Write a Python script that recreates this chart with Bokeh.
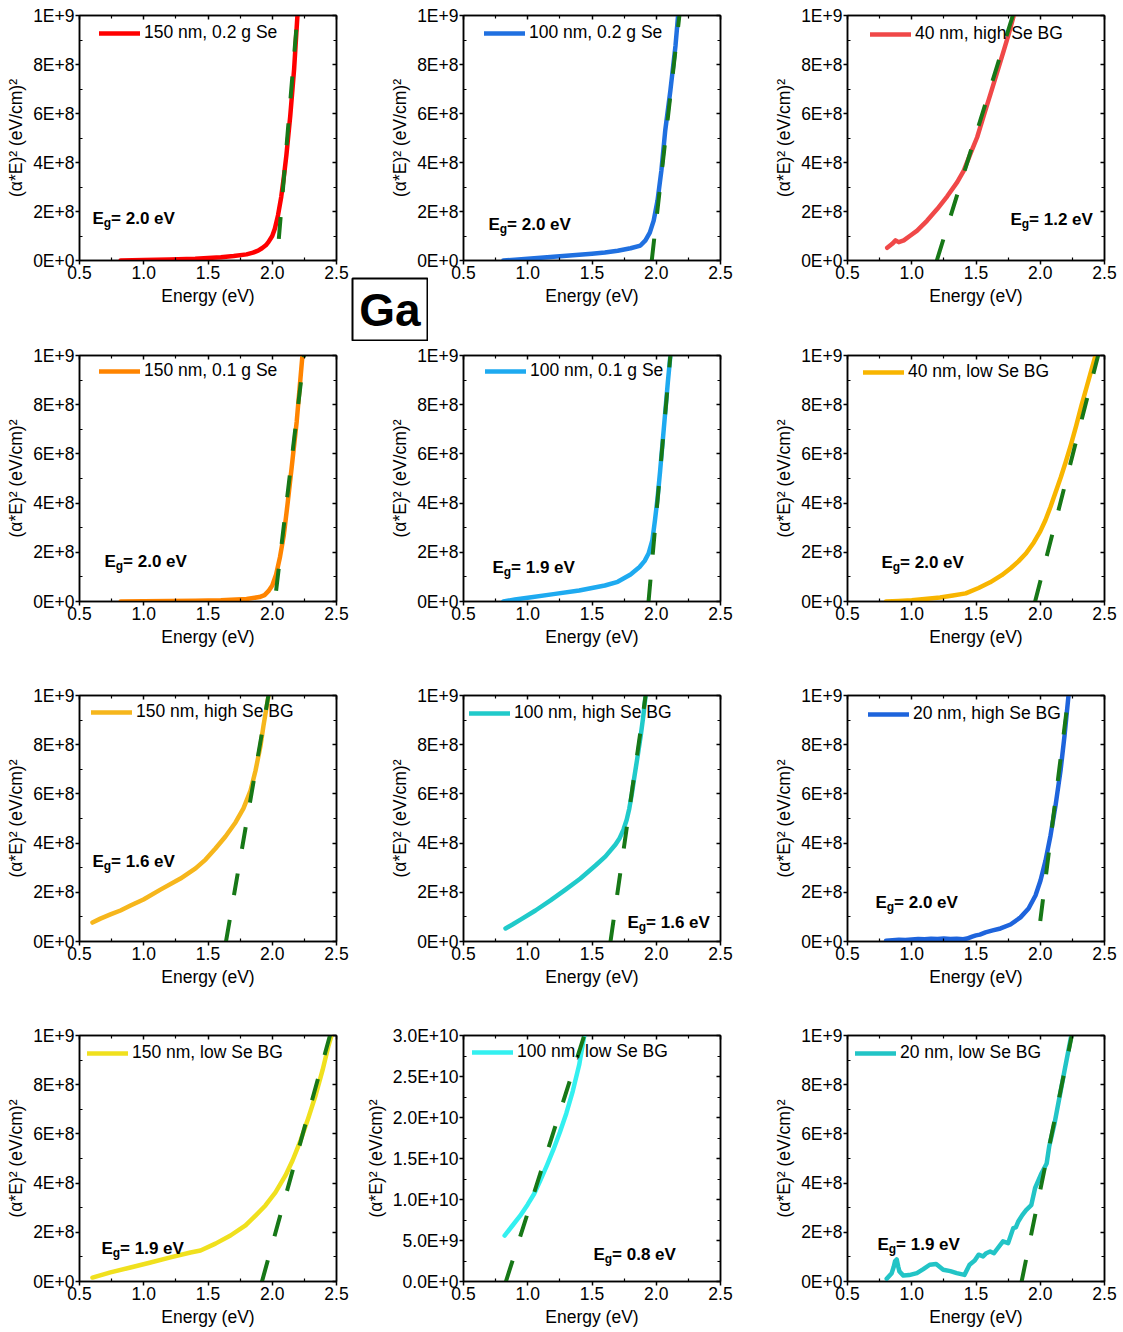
from bokeh.plotting import figure
from bokeh.layouts import row, column
from bokeh.models import (LinearAxis, FixedTicker, Label, Legend, LegendItem,
                          PrintfTickFormatter, Range1d, GridBox)
from bokeh.embed import file_html
from bokeh.resources import INLINE

FONT = "Liberation Sans"
FIT_COLOR = "#177817"

# ---------------- tick definitions ----------------
x_ticks = [0.5, 1.0, 1.5, 2.0, 2.5]
x_tick_labels = ["0.5", "1.0", "1.5", "2.0", "2.5"]
x_minor = [0.75, 1.25, 1.75, 2.25]

y_ticks_1e9 = [0, 200000000, 400000000, 600000000, 800000000, 1000000000]
y_tick_labels_1e9 = ["0E+0", "2E+8", "4E+8", "6E+8", "8E+8", "1E+9"]
y_minor_1e9 = [100000000, 300000000, 500000000, 700000000, 900000000]

y_ticks_3e10 = [0, 5000000000, 10000000000, 15000000000, 20000000000,
                25000000000, 30000000000]
y_tick_labels_3e10 = ["0.0E+0", "5.0E+9", "1.0E+10", "1.5E+10", "2.0E+10",
                      "2.5E+10", "3.0E+10"]
y_minor_3e10 = [2500000000, 7500000000, 12500000000, 17500000000,
                22500000000, 27500000000]

# ---------------- measured Tauc curves: energy (eV), (alpha*E)^2 ((eV/cm)^2) ----------------
e_150_02g = [0.82, 1.0, 1.2, 1.4, 1.5, 1.6, 1.7, 1.8, 1.85, 1.89, 1.92, 1.95,
             1.97, 2.0, 2.02, 2.045, 2.07, 2.09, 2.11, 2.14, 2.17, 2.196]
a_150_02g = [0.0, 0.02e8, 0.04e8, 0.07e8, 0.1e8, 0.13e8, 0.18e8, 0.25e8, 0.32e8,
             0.4e8, 0.5e8, 0.62e8, 0.75e8, 1.0e8, 1.3e8, 1.85e8, 2.6e8, 3.4e8,
             4.3e8, 5.9e8, 7.8e8, 10.0e8]

e_100_02g = [0.81, 0.9, 1.0, 1.2, 1.4, 1.5, 1.6, 1.7, 1.8, 1.877, 1.916, 1.95,
             1.98, 2.01, 2.04, 2.07, 2.11, 2.15, 2.17]
a_100_02g = [0.0, 0.03e8, 0.07e8, 0.15e8, 0.23e8, 0.28e8, 0.33e8, 0.4e8, 0.5e8,
             0.61e8, 0.82e8, 1.14e8, 1.63e8, 2.45e8, 3.67e8, 5.31e8, 6.94e8,
             8.78e8, 10.0e8]

e_40_high = [0.809, 0.848, 0.874, 0.899, 0.938, 0.99, 1.042, 1.12, 1.198, 1.276,
             1.354, 1.405, 1.457, 1.509, 1.561, 1.613, 1.665, 1.716, 1.755, 1.794]
a_40_high = [0.52e8, 0.68e8, 0.82e8, 0.75e8, 0.82e8, 1.02e8, 1.22e8, 1.63e8,
             2.1e8, 2.62e8, 3.2e8, 3.67e8, 4.36e8, 5.03e8, 5.92e8, 6.8e8, 7.69e8,
             8.57e8, 9.25e8, 10.0e8]

e_150_01g = [0.82, 1.0, 1.2, 1.4, 1.6, 1.8, 1.9, 1.94, 1.97, 2.0, 2.03, 2.06,
             2.09, 2.12, 2.15, 2.19, 2.235]
a_150_01g = [0.0, 0.01e8, 0.02e8, 0.03e8, 0.05e8, 0.1e8, 0.18e8, 0.26e8, 0.42e8,
             0.65e8, 1.1e8, 1.8e8, 2.7e8, 4.0e8, 5.4e8, 7.3e8, 10.0e8]

e_100_01g = [0.81, 0.9, 1.0, 1.2, 1.4, 1.5, 1.6, 1.7, 1.8, 1.87, 1.91, 1.94,
             1.97, 1.99, 2.01, 2.03, 2.05, 2.07, 2.09, 2.11]
a_100_01g = [0.0, 0.08e8, 0.15e8, 0.3e8, 0.45e8, 0.55e8, 0.65e8, 0.8e8, 1.1e8,
             1.4e8, 1.65e8, 1.95e8, 2.5e8, 3.3e8, 4.2e8, 5.3e8, 6.5e8, 7.7e8,
             8.9e8, 10.0e8]

e_40_low = [0.80, 0.9, 1.0, 1.1, 1.22, 1.32, 1.42, 1.52, 1.61, 1.7, 1.77, 1.83,
            1.89, 1.95, 2.0, 2.04, 2.08, 2.12, 2.16, 2.2, 2.24, 2.28, 2.32, 2.36,
            2.4, 2.43]
a_40_low = [0.0, 0.02e8, 0.05e8, 0.1e8, 0.16e8, 0.24e8, 0.33e8, 0.55e8, 0.78e8,
            1.07e8, 1.35e8, 1.63e8, 1.96e8, 2.4e8, 2.85e8, 3.3e8, 3.85e8, 4.45e8,
            5.05e8, 5.7e8, 6.4e8, 7.15e8, 7.95e8, 8.7e8, 9.45e8, 10.0e8]

e_150_high = [0.601, 0.663, 0.741, 0.819, 0.897, 0.998, 1.13, 1.286, 1.403,
              1.481, 1.558, 1.636, 1.714, 1.776, 1.831, 1.87, 1.909, 1.932, 1.971]
a_150_high = [0.77e8, 0.93e8, 1.1e8, 1.26e8, 1.46e8, 1.71e8, 2.11e8, 2.56e8,
              2.97e8, 3.33e8, 3.78e8, 4.27e8, 4.84e8, 5.41e8, 6.14e8, 6.95e8,
              7.97e8, 8.78e8, 10.0e8]

e_100_high = [0.827, 0.881, 0.944, 1.06, 1.177, 1.294, 1.41, 1.527, 1.605, 1.683,
              1.715, 1.745, 1.77, 1.79, 1.81, 1.83, 1.854, 1.88, 1.90, 1.917]
a_100_high = [0.53e8, 0.69e8, 0.89e8, 1.26e8, 1.67e8, 2.11e8, 2.56e8, 3.09e8,
              3.46e8, 3.94e8, 4.2e8, 4.55e8, 4.95e8, 5.4e8, 6.0e8, 6.7e8, 7.5e8,
              8.4e8, 9.2e8, 10.0e8]

e_20_high = [0.80, 0.85, 0.9, 0.95, 1.0, 1.05, 1.1, 1.15, 1.2, 1.25, 1.3, 1.35,
             1.4, 1.43, 1.47, 1.5, 1.53, 1.574, 1.63, 1.691, 1.768, 1.846, 1.909,
             1.963, 2.002, 2.041, 2.08, 2.119, 2.158, 2.189, 2.22]
a_20_high = [0.03e8, 0.05e8, 0.07e8, 0.06e8, 0.08e8, 0.1e8, 0.09e8, 0.11e8,
             0.1e8, 0.12e8, 0.1e8, 0.11e8, 0.09e8, 0.12e8, 0.2e8, 0.25e8, 0.28e8,
             0.37e8, 0.45e8, 0.53e8, 0.69e8, 0.98e8, 1.34e8, 1.87e8, 2.48e8,
             3.29e8, 4.31e8, 5.53e8, 6.95e8, 8.37e8, 10.0e8]

e_150_low = [0.601, 0.741, 0.897, 1.053, 1.208, 1.364, 1.442, 1.558, 1.675,
             1.792, 1.87, 1.947, 2.025, 2.103, 2.158, 2.22, 2.282, 2.337, 2.391,
             2.438, 2.461]
a_150_low = [0.16e8, 0.37e8, 0.57e8, 0.77e8, 0.98e8, 1.18e8, 1.26e8, 1.54e8,
             1.87e8, 2.28e8, 2.68e8, 3.09e8, 3.62e8, 4.31e8, 4.92e8, 5.73e8,
             6.67e8, 7.56e8, 8.58e8, 9.59e8, 10.0e8]

e_100_low = [0.82, 0.88, 0.94, 1.0, 1.05, 1.1, 1.15, 1.2, 1.25, 1.3, 1.35, 1.4,
             1.44]
a_100_low = [5.6e9, 6.8e9, 8.0e9, 9.4e9, 10.7e9, 12.4e9, 14.2e9, 16.1e9, 18.2e9,
             20.5e9, 23.2e9, 26.4e9, 30.0e9]

e_20_low = [0.805, 0.844, 0.86, 0.87, 0.883, 0.895, 0.904, 0.935, 0.98, 1.04,
            1.09, 1.14, 1.19, 1.245, 1.3, 1.35, 1.41, 1.45, 1.49, 1.52, 1.555,
            1.58, 1.61, 1.64, 1.66, 1.71, 1.75, 1.79, 1.81, 1.83, 1.86, 1.89,
            1.93, 1.96, 2.01, 2.05, 2.07, 2.11, 2.15, 2.19, 2.24]
a_20_low = [0.11e8, 0.34e8, 0.6e8, 0.82e8, 0.9e8, 0.6e8, 0.41e8, 0.24e8, 0.26e8,
            0.34e8, 0.5e8, 0.68e8, 0.71e8, 0.48e8, 0.42e8, 0.34e8, 0.27e8,
            0.68e8, 0.85e8, 1.09e8, 1.02e8, 1.15e8, 1.22e8, 1.15e8, 1.29e8,
            1.63e8, 1.56e8, 2.17e8, 2.2e8, 2.45e8, 2.7e8, 2.9e8, 3.1e8, 3.8e8,
            4.4e8, 4.8e8, 5.5e8, 6.4e8, 7.5e8, 8.6e8, 9.95e8]

# ---------------- linear Tauc fits: band gap (eV), slope, first fitted energy ----------------
fit_150_02g = dict(eg=2.037, slope=62.9e8, start=2.051)
fit_100_02g = dict(eg=1.965, slope=46.5e8, start=1.965)
fit_40_high = dict(eg=1.195, slope=16.9e8, start=1.195)
fit_150_01g = dict(eg=2.02, slope=44.0e8, start=2.03)
fit_100_01g = dict(eg=1.94, slope=58.8e8, start=1.94)
fit_40_low = dict(eg=1.96, slope=20.4e8, start=1.96)
fit_150_high = dict(eg=1.64, slope=30.3e8, start=1.64)
fit_100_high = dict(eg=1.644, slope=36.6e8, start=1.644)
fit_20_high = dict(eg=1.98, slope=41.7e8, start=2.0)
fit_150_low = dict(eg=1.92, slope=18.9e8, start=1.92)
fit_100_low = dict(eg=0.83, slope=49.2e9, start=0.83)
fit_20_low = dict(eg=1.855, slope=25.6e8, start=1.855)

# ---------------- panels (row by row) ----------------
panels = [
    [dict(name="150 nm, 0.2 g Se", e=e_150_02g, a=a_150_02g, fit=fit_150_02g, color="#FF0000"),
     dict(name="100 nm, 0.2 g Se", e=e_100_02g, a=a_100_02g, fit=fit_100_02g, color="#2070E0"),
     dict(name="40 nm, high Se BG", e=e_40_high, a=a_40_high, fit=fit_40_high, color="#F04848")],
    [dict(name="150 nm, 0.1 g Se", e=e_150_01g, a=a_150_01g, fit=fit_150_01g, color="#FF8400"),
     dict(name="100 nm, 0.1 g Se", e=e_100_01g, a=a_100_01g, fit=fit_100_01g, color="#1EAAF0"),
     dict(name="40 nm, low Se BG", e=e_40_low, a=a_40_low, fit=fit_40_low, color="#F8B500")],
    [dict(name="150 nm, high Se BG", e=e_150_high, a=a_150_high, fit=fit_150_high, color="#F6B61C"),
     dict(name="100 nm, high Se BG", e=e_100_high, a=a_100_high, fit=fit_100_high, color="#20CACA"),
     dict(name="20 nm, high Se BG", e=e_20_high, a=a_20_high, fit=fit_20_high, color="#1E64DC")],
    [dict(name="150 nm, low Se BG", e=e_150_low, a=a_150_low, fit=fit_150_low, color="#F0E01E"),
     dict(name="100 nm, low Se BG", e=e_100_low, a=a_100_low, fit=fit_100_low, color="#33F0F0"),
     dict(name="20 nm, low Se BG", e=e_20_low, a=a_20_low, fit=fit_20_low, color="#22C4C6")],
]
element_label = "Ga"

# layout geometry (pixels)
FRAME_W = 257
row_heights = [342, 340, 340, 310]
row_top = [15, 13, 13, 13]
frame_h = [245, 246, 246, 246]
col_widths = [[349, 419, 355], [384, 384, 355], [384, 384, 355], [355, 413, 355]]
col_left = [[79, 114, 79], [79, 79, 79], [79, 79, 79], [79, 108, 79]]

# legend placement: glyph left and glyph centre, from frame top-left
legend_pos = [[(20, 18), (21, 18), (23, 19)],
              [(20, 16), (22, 16), (16, 17)],
              [(12, 17), (6, 18), (21, 19)],
              [(8, 18), (9, 17), (8, 18)]]
# band-gap annotation: left edge and baseline, from frame bottom-left
eg_pos = [[(13, 42), (25, 36), (163, 41)],
          [(25, 40), (29, 34), (34, 39)],
          [(13, 80), (164, 19), (28, 39)],
          [(22, 33), (130, 27), (30, 37)]]


def style_axis(ax, ticks, labels, minor, shown=True):
    ax.ticker = FixedTicker(ticks=ticks, minor_ticks=minor)
    ax.axis_line_width = 1.5
    ax.axis_line_color = "black"
    ax.major_tick_line_width = 1.5
    ax.minor_tick_line_width = 1.2
    if shown:
        ax.major_label_overrides = dict(zip(ticks, labels))
        ax.major_label_text_font = FONT
        ax.major_label_text_font_size = "17.5px"
        ax.major_label_text_color = "black"
        ax.major_label_standoff = 1
        ax.axis_label_text_font = FONT
        ax.axis_label_text_font_size = "17.5px"
        ax.axis_label_text_font_style = "normal"
        ax.axis_label_text_color = "black"
        ax.axis_label_standoff = 4
        ax.major_tick_out = 4
        ax.major_tick_in = 0
        ax.minor_tick_out = 0
        ax.minor_tick_in = 3
    else:
        ax.formatter = PrintfTickFormatter(format="")
        ax.major_label_text_font_size = "1px"
        ax.major_label_standoff = 0
        ax.major_tick_out = 0
        ax.major_tick_in = 4
        ax.minor_tick_out = 0
        ax.minor_tick_in = 3


def make_panel(spec, r, c):
    big = max(spec["a"]) > 2e9
    ymax = 3e10 if big else 1e9
    yt, yl, ym = ((y_ticks_3e10, y_tick_labels_3e10, y_minor_3e10) if big
                  else (y_ticks_1e9, y_tick_labels_1e9, y_minor_1e9))
    w, h = col_widths[r][c], row_heights[r]
    left, top, fh = col_left[r][c], row_top[r], frame_h[r]
    p = figure(width=w, height=h, x_range=Range1d(0.5, 2.5), y_range=Range1d(0, ymax),
               output_backend="svg", toolbar_location=None,
               min_border_left=left, min_border_right=w - left - FRAME_W,
               min_border_top=top, min_border_bottom=h - top - fh,
               x_axis_label="Energy (eV)", y_axis_label="(α*E)² (eV/cm)²")
    p.grid.visible = False
    p.outline_line_color = "black"
    p.outline_line_width = 1.5
    p.background_fill_color = "white"
    p.border_fill_color = "white"

    style_axis(p.xaxis[0], x_ticks, x_tick_labels, x_minor)
    style_axis(p.yaxis[0], yt, yl, ym)
    top_ax = LinearAxis()
    style_axis(top_ax, x_ticks, x_tick_labels, x_minor, shown=False)
    right_ax = LinearAxis()
    style_axis(right_ax, yt, yl, ym, shown=False)
    p.add_layout(top_ax, "above")
    p.add_layout(right_ax, "right")

    curve = p.line(spec["e"], spec["a"], line_color=spec["color"], line_width=4.5,
                   line_cap="round", line_join="round")

    fit = spec["fit"]
    e_end = fit["eg"] + ymax / fit["slope"]
    fe = [fit["start"], e_end]
    fa = [fit["slope"] * (x - fit["eg"]) for x in fe]
    p.line(fe, fa, line_color=FIT_COLOR, line_width=4, line_dash="22 25")

    gx, gy = legend_pos[r][c]
    legend = Legend(items=[LegendItem(label=spec["name"], renderers=[curve])],
                    location=(gx, fh - gy - 10), border_line_color=None,
                    background_fill_alpha=0, padding=0, margin=0, spacing=0,
                    glyph_width=41, glyph_height=20, label_height=20,
                    label_standoff=4, label_text_font=FONT,
                    label_text_font_size="17.5px", label_text_color="black")
    p.add_layout(legend)

    ex, eb = eg_pos[r][c]
    common = dict(x_units="screen", y_units="screen", text_font=FONT,
                  text_font_style="bold", text_color="black",
                  text_baseline="alphabetic", text_align="left")
    p.add_layout(Label(x=ex, y=eb, text="E", text_font_size="17px", **common))
    p.add_layout(Label(x=ex + 11.3, y=eb - 4, text="g", text_font_size="12px", **common))
    p.add_layout(Label(x=ex + 18.6, y=eb, text="= %.1f eV" % fit["eg"],
                       text_font_size="17px", **common))
    return p


rows = []
for r, specs in enumerate(panels):
    rows.append(row(*[make_panel(s, r, c) for c, s in enumerate(specs)]))
grid = column(*rows)

# boxed element tag, laid over the gap between the first two panels
tag = figure(width=77, height=64, x_range=Range1d(0, 1), y_range=Range1d(0, 1),
             output_backend="svg", toolbar_location=None, min_border=1,
             x_axis_type=None, y_axis_type=None)
tag.grid.visible = False
tag.outline_line_color = "black"
tag.outline_line_width = 2
tag.add_layout(Label(x=0.5, y=0.5, text=element_label, text_font=FONT,
                     text_font_size="46px", text_font_style="bold",
                     text_color="black", text_align="center",
                     text_baseline="middle"))
tag.margin = (277, 0, 0, 351)

page = GridBox(children=[(grid, 0, 0), (tag, 0, 0)])

open("out.html", "w").write(file_html(page, INLINE))
